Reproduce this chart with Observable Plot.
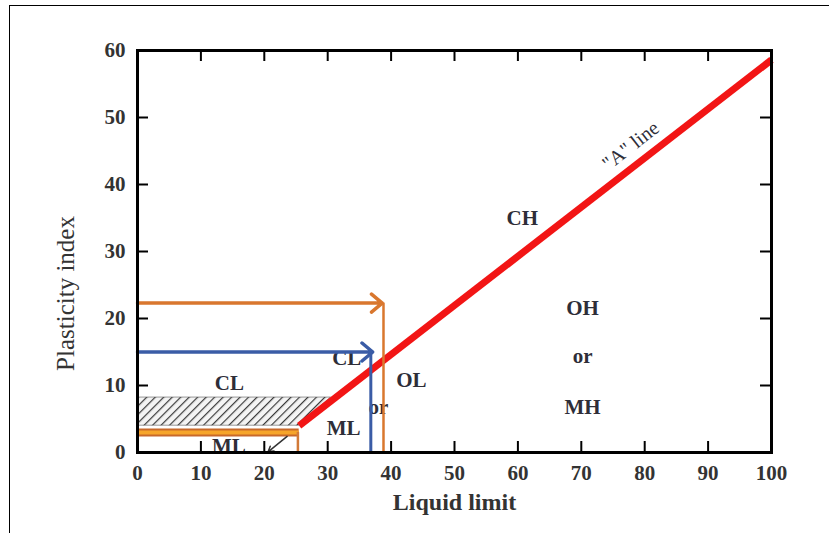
<!DOCTYPE html>
<html>
<head>
<meta charset="utf-8">
<script src="https://cdn.jsdelivr.net/npm/d3@7"></script>
<script src="https://cdn.jsdelivr.net/npm/@observablehq/plot@0.6"></script>
<style>
  html, body { margin: 0; padding: 0; background: #fff; }
  #wrap { position: relative; width: 829px; height: 533px; overflow: hidden; }
  #border { position: absolute; left: 9px; top: 5px; width: 830px; height: 540px;
            border-top: 1.5px solid #000; border-left: 1.5px solid #000; pointer-events: none; }
</style>
</head>
<body>
<div id="wrap"><div id="border"></div></div>
<script>
// ---- data ----
const xTicks = [0, 10, 20, 30, 40, 50, 60, 70, 80, 90, 100];
const yTicks = [0, 10, 20, 30, 40, 50, 60];
const xInnerTicks = [10, 20, 30, 40, 50, 60, 70, 80, 90];
const yInnerTicks = [10, 20, 30, 40, 50];

// "A" line endpoints (Liquid limit, Plasticity index)
const aLineLL = [25.5, 100];
const aLinePI = [4.0, 58.6];

// hatched CL-ML band
const hatchLL = [0, 25.5, 30.5];
const hatchLow = [4.0, 4.0, 8.2];
const hatchHigh = [8.2, 8.2, 8.2];

// sample paths
const orangeUpper = {pi: 22.3, llArrow: 38.6, llDrop: 38.8};
const bluePath = {pi: 15.0, llArrow: 37.1, llDrop: 36.8};
const orangeLower = {pi: 3.0, llEnd: 25.5, llDrop: 25.3};

// region labels
const regionText = ["CL", "CL", "OL", "or", "ML", "ML", "CH", "OH", "or", "MH"];
const regionLL   = [14.5, 33.0, 43.2, 38.0, 32.5, 14.4, 60.7, 70.2, 70.2, 70.2];
const regionPI   = [10.4, 14.0, 10.8, 6.8, 3.6, 1.0, 35.0, 21.6, 14.3, 6.8];

const aLabel = {text: "\"A\" line", ll: 77.8, pi: 45.8};
const smallArrow = {ll1: 23.6, pi1: 2.4, ll2: 20.6, pi2: 0.1};

// ---- derived tables ----
const aLine = aLineLL.map((x, i) => ({x, y: aLinePI[i]}));
const hatch = hatchLL.map((x, i) => ({x, y1: hatchLow[i], y2: hatchHigh[i]}));
const regions = regionText.map((t, i) => ({t, x: regionLL[i], y: regionPI[i]}));

const serif = "'Liberation Serif', 'Times New Roman', serif";
const txt = "#2e2e38";

const chart = Plot.plot({
  width: 829,
  height: 533,
  marginLeft: 137,
  marginRight: 58,
  marginTop: 50,
  marginBottom: 81,
  style: {fontFamily: serif, background: "transparent", overflow: "visible"},
  x: {domain: [0, 100]},
  y: {domain: [0, 60]},
  marks: [
    Plot.areaY(hatch, {x: "x", y1: "y1", y2: "y2", fill: "url(#hatch)", stroke: "#555", strokeWidth: 0.6}),
    Plot.text(regions, {x: "x", y: "y", text: "t", fontSize: 21, fill: txt, fontWeight: "bold", letterSpacing: 1}),
    Plot.line(aLine, {x: "x", y: "y", stroke: "#f21515", strokeWidth: 7, strokeLinecap: "butt"}),
    Plot.text([aLabel], {x: "ll", y: "pi", text: "text", rotate: -38, fontSize: 20, fill: txt}),
    // lower orange band
    Plot.ruleY([orangeLower], {y: "pi", x1: 0, x2: "llEnd", stroke: "#c8682a", strokeWidth: 8}),
    Plot.ruleY([orangeLower], {y: "pi", x1: 0, x2: "llEnd", stroke: "#f6a52a", strokeWidth: 4}),
    Plot.ruleX([orangeLower], {x: "llDrop", y1: 0, y2: "pi", stroke: "#d27a38", strokeWidth: 2.5}),
    // blue path
    Plot.arrow([bluePath], {x1: 0, y1: "pi", x2: "llArrow", y2: "pi", stroke: "#3a5ca6", strokeWidth: 3.5, headLength: 6, headAngle: 80}),
    Plot.ruleX([bluePath], {x: "llDrop", y1: 0, y2: "pi", stroke: "#3a5ca6", strokeWidth: 3}),
    // upper orange path
    Plot.arrow([orangeUpper], {x1: 0, y1: "pi", x2: "llArrow", y2: "pi", stroke: "#d9772e", strokeWidth: 3.5, headLength: 6, headAngle: 80}),
    Plot.ruleX([orangeUpper], {x: "llDrop", y1: 0, y2: "pi", stroke: "#d9772e", strokeWidth: 2.5}),
    // small arrow near bottom ML
    Plot.arrow([smallArrow], {x1: "ll1", y1: "pi1", x2: "ll2", y2: "pi2", stroke: "#333", strokeWidth: 1.5, headLength: 6}),
    // frame and inward ticks
    Plot.frame({stroke: "#000", strokeWidth: 3}),
    Plot.ruleX(xInnerTicks, {x: d => d, y1: yTicks[0], y2: yTicks[0], insetTop: -11, stroke: "#000", strokeWidth: 2}),
    Plot.ruleX(xInnerTicks, {x: d => d, y1: yTicks[yTicks.length - 1], y2: yTicks[yTicks.length - 1], insetBottom: -11, stroke: "#000", strokeWidth: 2}),
    Plot.ruleY(yInnerTicks, {y: d => d, x1: xTicks[0], x2: xTicks[0], insetRight: -11, stroke: "#000", strokeWidth: 2}),
    Plot.ruleY(yInnerTicks, {y: d => d, x1: xTicks[xTicks.length - 1], x2: xTicks[xTicks.length - 1], insetLeft: -11, stroke: "#000", strokeWidth: 2}),
    // axes
    Plot.axisX(xTicks, {tickSize: 0, tickPadding: 13, fontSize: 21, fill: "#333", fontWeight: "bold", label: null}),
    Plot.axisY(yTicks, {tickSize: 0, tickPadding: 12, fontSize: 21, fill: "#333", fontWeight: "bold", label: null}),
    Plot.text(["Liquid limit"], {frameAnchor: "bottom", dy: 57, fontSize: 24, fill: "#333", fontWeight: "bold"}),
    Plot.text(["Plasticity index"], {frameAnchor: "left", textAnchor: "middle", dx: -72, dy: 42, rotate: -90, fontSize: 25, fill: "#333"})
  ]
});

// hatch pattern definition
const ns = "http://www.w3.org/2000/svg";
const defs = document.createElementNS(ns, "defs");
defs.innerHTML = '<pattern id="hatch" patternUnits="userSpaceOnUse" width="6" height="6" patternTransform="rotate(45)">' +
  '<rect width="6" height="6" fill="#f4f4f4"/>' +
  '<line x1="0" y1="0" x2="0" y2="6" stroke="#3a3a3a" stroke-width="2.4"/></pattern>';
chart.insertBefore(defs, chart.firstChild);
chart.style.position = "absolute";
chart.style.left = "0px";
chart.style.top = "0px";
document.getElementById("wrap").appendChild(chart);
</script>
</body>
</html>
